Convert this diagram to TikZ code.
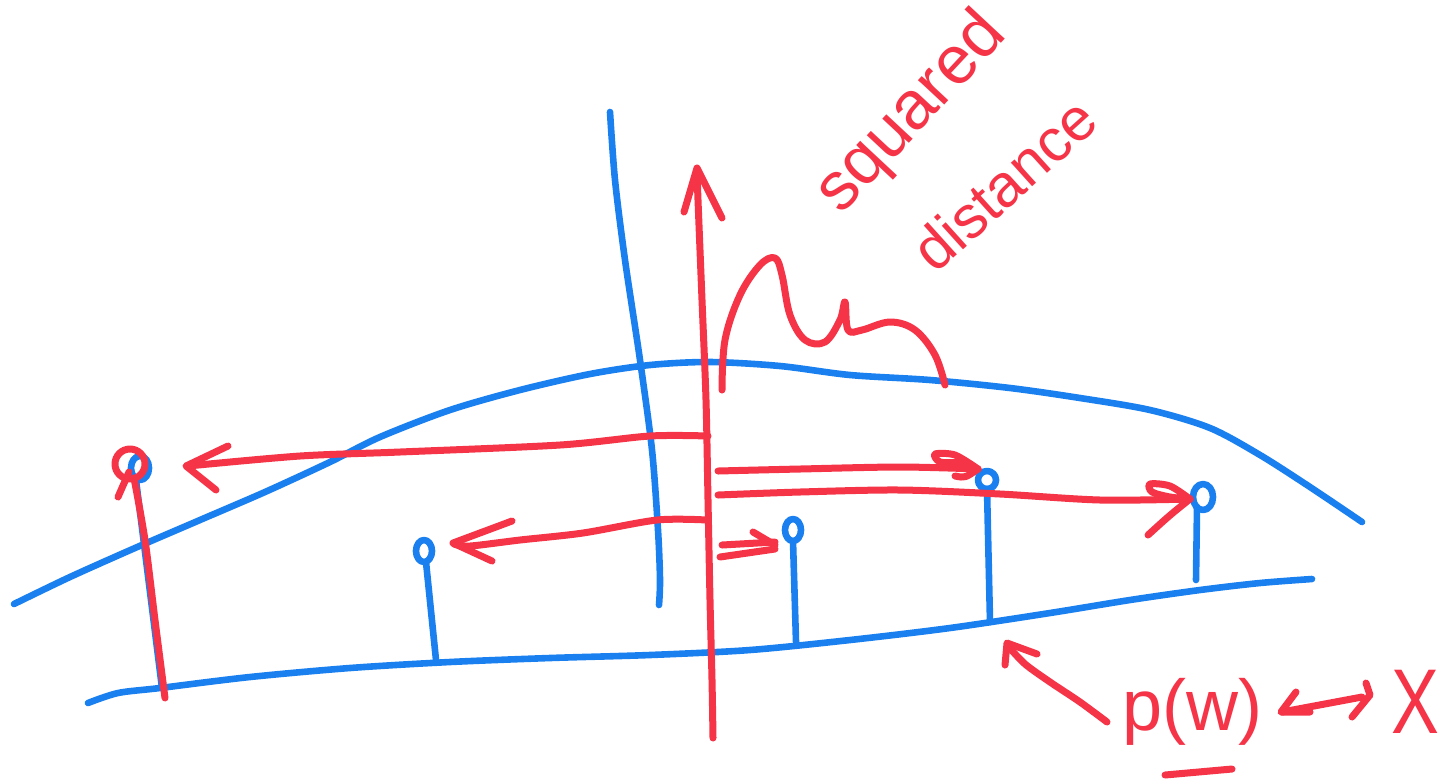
\documentclass[tikz,border=0pt]{standalone}
\usepackage{fontspec}
\setmainfont{Liberation Sans}
\definecolor{penblue}{RGB}{26,128,240}
\definecolor{penred}{RGB}{245,52,72}
\begin{document}
\begin{tikzpicture}[x=0.5pt,y=-0.5pt,
  bluepen/.style={draw=penblue,line width=3.3pt,line cap=round,line join=round},
  redpen/.style={draw=penred,line width=3.5pt,line cap=round,line join=round},
  hand/.style={text=penred,inner sep=0pt,font=\fontsize{34}{34}\selectfont}]
\useasboundingbox (0,0) rectangle (1444,783);
% ---------- blue ----------
\draw[bluepen] plot[smooth] coordinates {(14,604) (70,577) (135,548) (200,520) (265,492) (330,462) (380,437) (450,410) (520,390) (590,374) (650,365) (710,362) (780,366) (850,375) (930,380) (1010,388) (1080,398) (1150,410) (1210,428) (1260,455) (1310,487) (1362,522)};
\draw[bluepen] plot[smooth] coordinates {(88,703) (118,693) (160,688) (250,677) (350,668) (450,662) (550,658) (650,655) (750,650) (850,640) (950,628) (1050,613) (1130,600) (1200,590) (1260,583) (1312,579)};
\draw[bluepen] plot[smooth] coordinates {(610,112) (615,180) (625,260) (640,360) (652,450) (658,530) (660,580) (659,605)};
% data points
\coordinate (p1) at (140,468); \coordinate (b1) at (162,688);
\coordinate (p2) at (424,551); \coordinate (b2) at (436,660);
\coordinate (p3) at (793,530); \coordinate (b3) at (796,642);
\coordinate (p4) at (987,480); \coordinate (b4) at (990,622);
\coordinate (p5) at (1203,497); \coordinate (b5) at (1196,580);
\draw[bluepen] (p1) ellipse[x radius=9,y radius=12];
\draw[bluepen] (p1) ++(-4,12) -- (b1);
\draw[bluepen] (p2) ellipse[x radius=8,y radius=11];
\draw[bluepen] (p2) ++(2,11) -- (b2);
\draw[bluepen] (p3) ellipse[x radius=8,y radius=11];
\draw[bluepen] (p3) ++(0,11) -- (b3);
\draw[bluepen] (p4) circle[radius=9];
\draw[bluepen] (p4) ++(0,9) -- (b4);
\draw[bluepen] (p5) ellipse[x radius=10,y radius=13];
\draw[bluepen] (p5) ++(-6,10) -- (b5);
% ---------- red ----------
% vertical axis arrow
\draw[redpen] plot[smooth] coordinates {(713,738) (712,680) (710,600) (708,500) (706,400) (702,300) (698,200) (697,170)};
\draw[redpen] (684,212) -- (697,168) -- (722,218);
% bumpy density
\draw[redpen] plot[smooth,tension=0.6] coordinates {(722,390) (725,340) (740,295) (760,265) (775,258) (782,275) (790,315) (805,340) (825,342) (840,320) (845,302) (848,330) (862,330) (890,322) (915,330) (935,355) (945,385)};
% arrow to left point
\draw[redpen] plot[smooth] coordinates {(708,436) (650,436) (560,445) (400,452) (300,456) (188,466)};
\draw[redpen] (228,446) -- (186,466) -- (216,490);
% arrow to p4
\draw[redpen] plot[smooth] coordinates {(718,471) (800,469) (900,467) (978,469)};
\draw[redpen] plot[smooth] coordinates {(978,469) (955,455) (935,454) (940,462) (960,463) (978,469)};
\draw[redpen] (978,469) .. controls (965,478) .. (955,476);
% arrow to p5
\draw[redpen] plot[smooth] coordinates {(718,495) (800,492) (900,490) (1000,494) (1100,500) (1190,499)};
\draw[redpen] plot[smooth] coordinates {(1190,499) (1170,486) (1150,484) (1152,492) (1170,497) (1190,499)};
\draw[redpen] (1190,499) .. controls (1170,515) .. (1148,535);
% arrow to p2
\draw[redpen] plot[smooth] coordinates {(707,520) (657,520) (583,533) (520,540) (470,546) (454,544)};
\draw[redpen] (512,521) -- (453,543) -- (492,561);
% short double arrow to p3
\draw[redpen] (722,545) -- (775,542);
\draw[redpen] (720,557) -- (775,549);
\draw[redpen] (753,532) -- (775,545);
% red over left stem
\draw[redpen] plot[smooth] coordinates {(165,698) (155,620) (145,540) (134,478)};
\draw[redpen] (130,464) circle[radius=15];
\draw[redpen] (118,497) -- (129,472);
% arrow towards x-axis
\draw[redpen] plot[smooth] coordinates {(1107,722) (1080,702) (1050,682) (1025,664) (1008,646)};
\draw[redpen] (1037,654) -- (1007,643) -- (1005,665);
% labels
\node[hand,rotate=47] (sq) at (912,114) {squared};
\node[hand,rotate=42,font=\fontsize{30}{30}\selectfont] (di) at (1004,184) {distance};
\node[hand,font=\fontsize{36}{36}\selectfont] (pw) at (1192,712) {p(w)};
\draw[redpen] (1165,775) -- (1232,769);
\node[hand,font=\fontsize{46}{46}\selectfont,xscale=0.78,transform shape] (X) at (1415,702) {X};
\draw[redpen] (1282,712) -- (1362,697);
\draw[redpen] (1296,692) -- (1281,712) -- (1310,712);
\draw[redpen] (1366,683) -- (1370,695) -- (1352,717);
\end{tikzpicture}
\end{document}
